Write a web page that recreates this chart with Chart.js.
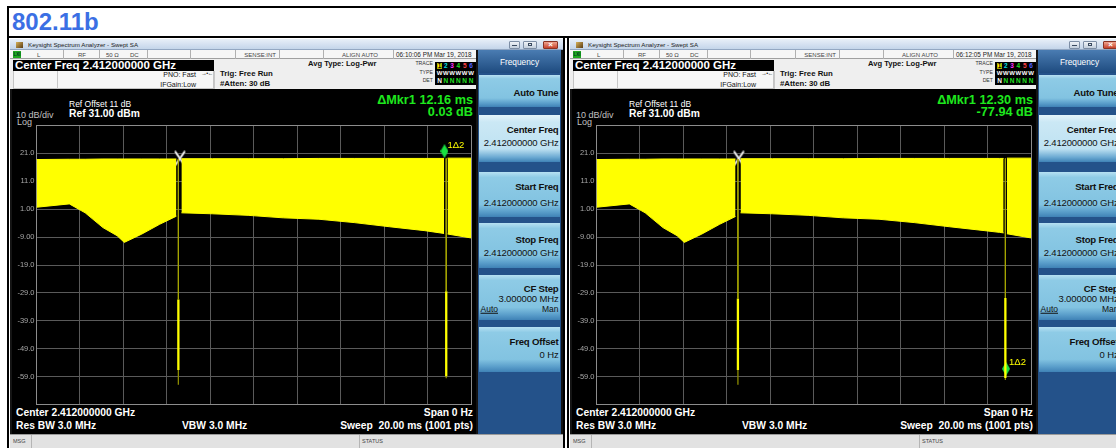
<!DOCTYPE html>
<html><head><meta charset="utf-8">
<script src="https://cdn.jsdelivr.net/npm/chart.js@4.4.1/dist/chart.umd.min.js"></script>
<style>
*{box-sizing:border-box}
html,body{margin:0;padding:0;background:#fff}
body{width:1116px;height:448px;position:relative;overflow:hidden;font-family:"Liberation Sans",Arial,Helvetica,sans-serif}
.a{position:absolute}
.t{position:absolute;white-space:nowrap;line-height:1}
.win{position:absolute;top:39px;width:553px;height:409px;overflow:hidden;background:#141414}
.btn{position:absolute;left:469px;width:81px;background:linear-gradient(to bottom,#b6e0f2 0%,#8ecbe6 12%,#82c3e1 72%,#5b9fcb 88%,#3f82b6 100%)}
.btn.sel{background:linear-gradient(to bottom,#e4f4fb 0%,#cbe8f5 15%,#bfe2f2 72%,#6ba9d2 90%,#3f82b6 100%)}
canvas{position:absolute}
</style></head><body>
<div class="a" style="left:7px;top:6px;width:1109px;height:1.5px;background:#000"></div>
<div class="a" style="left:7px;top:36px;width:1109px;height:1.5px;background:#000"></div>
<div class="a" style="left:7px;top:6px;width:1.5px;height:442px;background:#000"></div>
<div class="a" style="left:563px;top:36px;width:1.5px;height:412px;background:#000"></div>
<div class="a" style="left:567px;top:36px;width:1.5px;height:412px;background:#000"></div>
<div class="t" style="left:12px;top:21.5px;transform:translateY(-50%);font-size:24px;font-weight:bold;color:#3b6fe4">802.11b</div>
<div id="w1" class="win" style="left:10px"></div>
<div id="w2" class="win" style="left:570px"></div>
<script>
// ---------------- DATA ----------------
// Axes (zero span, 20 ms sweep, Ref 31 dBm, 10 dB/div)
const X_TICKS = [0, 2, 4, 6, 8, 10, 12, 14, 16, 18, 20];
const Y_TICKS = [-69, -59, -49, -39, -29, -19, -9, 1, 11, 21, 31];
const Y_TICK_LABELS = ['', '-59.0', '-49.0', '-39.0', '-29.0', '-19.0', '-9.00', '1.00', '11.0', '21.0', ''];

// Left capture: burst envelope (ms, dBm)
const L_timeA = [0, 1.51, 2.24, 3.06, 3.71, 4.04, 4.85, 5.67, 6.44];
const L_lowA  = [1.7, 2.9, -0.3, -5.6, -8.5, -10.9, -7.9, -4.4, -1.5];
const L_highA = [18.8, 18.9, 18.9, 19.0, 19.0, 19.0, 19.0, 19.0, 19.0];
const L_timeB = [6.67, 8.11, 9.74, 11.37, 13.0, 14.62, 16.26, 17.88, 18.76];
const L_lowB  = [-0.3, -0.65, -1.2, -2.1, -2.6, -3.8, -5.3, -6.7, -7.7];
const L_highB = [19.1, 19.1, 19.1, 19.1, 19.2, 19.2, 19.2, 19.2, 19.2];
const L_timeC = [18.92, 20];
const L_lowC  = [-7.9, -9.3];
const L_highC = [19.3, 19.3];
// burst-off drops
const L_dropTimes     = [6.53, 18.86];
const L_dropThinTop   = [19.0, 19.2];
const L_dropThickTop  = [-31.4, -28.4];
const L_dropThickBot  = [-56.6, -58.9];
const L_dropDimBot    = [-61.9, -59.6];
// markers: [reference X, delta diamond]
const L_markerTimes  = [6.6, 18.78];
const L_markerValues = [19.2, 19.3];

// Right capture
const R_timeA = [0, 1.51, 2.24, 3.06, 3.71, 4.04, 4.85, 5.67, 6.40];
const R_lowA  = [1.7, 2.9, -0.3, -5.6, -8.5, -10.9, -7.9, -4.4, -1.6];
const R_highA = [18.8, 18.9, 18.9, 19.0, 19.0, 19.0, 19.0, 19.0, 19.0];
const R_timeB = [6.63, 8.11, 9.74, 11.37, 13.0, 14.62, 16.26, 17.88, 18.54, 18.74];
const R_lowB  = [-0.3, -0.65, -1.2, -2.1, -2.6, -3.8, -5.3, -6.7, -7.3, -7.5];
const R_highB = [19.1, 19.1, 19.1, 19.1, 19.2, 19.2, 19.2, 19.2, 19.2, 19.2];
const R_timeC = [18.89, 20];
const R_lowC  = [-7.8, -9.3];
const R_highC = [19.3, 19.3];
const R_dropTimes     = [6.51, 18.82];
const R_dropThinTop   = [19.0, 19.2];
const R_dropThickTop  = [-31.0, -30.8];
const R_dropThickBot  = [-56.6, -59.5];
const R_dropDimBot    = [-61.9, -60.2];
const R_markerTimes  = [6.55, 18.85];
const R_markerValues = [19.2, -58.7];

// ---------------- CHROME ----------------
function t(x, y, s, css, a) {
  const tr = a === 'r' ? 'translate(-100%,-50%)' : a === 'c' ? 'translate(-50%,-50%)' : 'translateY(-50%)';
  return `<div class="t" style="left:${x}px;top:${y}px;transform:${tr};${css}">${s}</div>`;
}
function box(x, y, w, h, css) {
  return `<div class="a" style="left:${x}px;top:${y}px;width:${w}px;height:${h}px;${css}"></div>`;
}
function buildWin(el, cfg) {
  let h = '';
  // title bar
  h += box(0, 0, 553, 11, 'background:linear-gradient(#e8eff8,#c4d5ea);border-bottom:1px solid #93a7c2');
  h += box(6, 2.5, 7, 6, 'background:linear-gradient(135deg,#d8b25a,#5a3c14)');
  h += t(18, 5.5, 'Keysight Spectrum Analyzer - Swept SA', 'font-size:6.2px;color:#1a1a1a');
  h += box(499, 1.5, 11, 8, 'background:linear-gradient(#eef2f7,#c3cfdd);border:1px solid #7d8ea5;border-radius:1px');
  h += box(502, 5.5, 5, 1.2, 'background:#3a4a60');
  h += box(513, 1.5, 14, 8, 'background:linear-gradient(#eef2f7,#c3cfdd);border:1px solid #7d8ea5;border-radius:1px');
  h += box(518, 3.5, 4, 3.5, 'border:1px solid #3a4a60');
  h += box(533, 1.5, 15, 8, 'background:linear-gradient(#f0a590,#c8432c);border:1px solid #8a3324;border-radius:1px');
  h += t(540.5, 5.6, '×', 'font-size:8px;color:#fff;font-weight:bold', 'c');
  // status row
  h += box(0, 11, 466, 8.5, 'background:#f6f6f6;border-bottom:1px solid #a0a0a0');
  [53, 89, 137, 180, 225, 269, 313, 383].forEach(x => { h += box(x, 11, 1, 8.5, 'background:#b0b0b0'); });
  h += box(3, 12, 8, 7, 'background:#1fa81f');
  h += t(7, 15.6, 'LXI', 'font-size:4.5px;color:#032;font-weight:bold', 'c');
  const st = 'font-size:6px;color:#444';
  h += t(27, 15.5, 'L', st);
  h += t(68, 15.5, 'RF', st);
  h += t(96, 15.5, '50 Ω', st);
  h += t(120, 15.5, 'DC', st);
  h += t(266, 15.5, 'SENSE:INT', st, 'r');
  h += t(368, 15.5, 'ALIGN AUTO', st, 'r');
  h += t(386, 15.5, cfg.time, 'font-size:6.4px;color:#222');
  // info area
  h += box(0, 19.5, 466, 30.5, 'background:#efefef');
  h += box(3, 21, 201, 11, 'background:#000');
  h += t(5, 26.7, 'Center Freq 2.412000000 GHz', 'font-size:11.5px;font-weight:bold;color:#fff');
  h += box(3, 32, 201, 18, 'border:1px solid #c4c4c4;border-top:none;background:#f7f7f7');
  h += box(47, 32, 1, 18, 'background:#c8c8c8');
  h += box(204, 32, 1, 18, 'background:#c8c8c8');
  h += t(186, 35.2, 'PNO: Fast', 'font-size:7px;color:#111', 'r');
  h += t(197, 35, '→•←', 'font-size:5.5px;color:#111;letter-spacing:-0.5px', 'c');
  h += t(186, 45, 'IFGain:Low', 'font-size:7px;color:#111', 'r');
  h += t(210, 35, 'Trig: Free Run', 'font-size:7.8px;font-weight:bold;color:#111');
  h += t(210, 45, '#Atten: 30 dB', 'font-size:7.8px;font-weight:bold;color:#111');
  h += t(298, 24.6, 'Avg Type: Log-Pwr', 'font-size:7.6px;font-weight:bold;color:#111');
  const tl = 'font-size:5.2px;color:#333';
  h += t(423, 25.3, 'TRACE', tl, 'r');
  h += t(423, 33.7, 'TYPE', tl, 'r');
  h += t(423, 41.7, 'DET', tl, 'r');
  h += box(425, 22.5, 41, 23.5, 'background:#000');
  const numCols = ['#000', '#00e0e0', '#ff30ff', '#20e020', '#ff4040', '#5060ff'];
  for (let i = 0; i < 6; i++) {
    const cx = 429.5 + i * 6.3;
    if (i === 0) h += box(cx - 2.6, 23.5, 5.2, 6.6, 'background:#ffff00;border:1px solid #b0b000');
    h += t(cx, 26.8, String(i + 1), `font-size:6.5px;font-weight:bold;color:${numCols[i]}`, 'c');
    h += t(cx, 34, 'W', 'font-size:6px;color:#fff;font-weight:bold', 'c');
    h += t(cx, 41.8, 'N', `font-size:6.5px;font-weight:bold;color:${i === 0 ? '#fff' : '#20e020'}`, 'c');
  }
  // display area
  h += box(2, 50, 464, 345, 'background:#000');
  h += t(59, 65, 'Ref Offset 11 dB', 'font-size:8.5px;color:#fff');
  h += t(59, 75.3, 'Ref 31.00 dBm', 'font-size:10.3px;font-weight:bold;color:#fff');
  h += t(6, 76, '10 dB/div', 'font-size:9px;color:#c0c0c0');
  h += t(7, 83, 'Log', 'font-size:9px;color:#c0c0c0');
  h += t(463, 60.5, cfg.mkr, 'font-size:12.7px;font-weight:bold;color:#1ee81e', 'r');
  h += t(463, 72.5, cfg.mkrVal, 'font-size:12.7px;font-weight:bold;color:#1ee81e', 'r');
  const bt = 'font-size:10.3px;font-weight:bold;color:#fff';
  h += t(6, 374.3, 'Center 2.412000000 GHz', bt);
  h += t(463, 374.3, 'Span 0 Hz', bt, 'r');
  h += t(6, 387, 'Res BW 3.0 MHz', bt);
  h += t(172, 387, 'VBW 3.0 MHz', bt);
  h += t(463, 387, 'Sweep&nbsp;&nbsp;20.00 ms (1001 pts)', bt, 'r');
  h += `<canvas id="${cfg.id}" width="464" height="292" style="left:2px;top:80px"></canvas>`;
  // menu
  h += box(468, 11, 83, 384, 'background:#24528a');
  h += box(468, 11, 83, 23, 'background:linear-gradient(#4a7cb2,#1e4b7f)');
  h += t(509.5, 23, 'Frequency', 'font-size:8.3px;color:#fff', 'c');
  const btns = [
    [36, 32, 'Auto Tune', null, false, 54, 0],
    [76, 47, 'Center Freq', '2.412000000 GHz', true, 91, 104],
    [133, 45, 'Start Freq', '2.412000000 GHz', false, 148, 164],
    [184, 45, 'Stop Freq', '2.412000000 GHz', false, 201, 214],
    [236, 45, 'CF Step', '3.000000 MHz', false, 249.5, 259.5],
    [288, 45, 'Freq Offset', '0 Hz', false, 303, 316]
  ];
  btns.forEach(b => {
    h += `<div class="btn${b[4] ? ' sel' : ''}" style="top:${b[0]}px;height:${b[1]}px"></div>`;
    h += t(548.5, b[5], b[2], 'font-size:9.6px;font-weight:bold;color:#111;letter-spacing:-0.2px', 'r');
    if (b[3]) h += t(548.5, b[6], b[3], 'font-size:9.5px;color:#111;letter-spacing:-0.15px', 'r');
  });
  h += t(470.5, 270, '<u>Auto</u>', 'font-size:8.5px;color:#111');
  h += t(548.5, 270, 'Man', 'font-size:8.5px;color:#111', 'r');
  // msg bar
  h += box(0, 395, 553, 14, 'background:#e2e2e2;border-top:1px solid #9a9a9a');
  h += box(21, 396, 1, 13, 'background:#b5b5b5');
  h += box(349, 396, 1, 13, 'background:#b5b5b5');
  h += t(3, 402.5, 'MSG', 'font-size:5.5px;color:#444');
  h += t(352, 402.5, 'STATUS', 'font-size:5.5px;color:#444');
  el.innerHTML = h;
}
buildWin(document.getElementById('w1'), {id: 'c1', time: '06:10:06 PM Mar 19, 2018', mkr: 'ΔMkr1 12.16 ms', mkrVal: '0.03 dB'});
buildWin(document.getElementById('w2'), {id: 'c2', time: '06:12:05 PM Mar 19, 2018', mkr: 'ΔMkr1 12.30 ms', mkrVal: '-77.94 dB'});

// ---------------- MARKER GLYPHS ----------------
function diamondGlyph() {
  const c = document.createElement('canvas'); c.width = 8; c.height = 28;
  const g = c.getContext('2d');
  g.fillStyle = '#18e040';
  g.beginPath(); g.moveTo(4, 0); g.lineTo(8, 7); g.lineTo(4, 14); g.lineTo(0, 7); g.closePath(); g.fill();
  return c;
}
function crossGlyph() {
  const c = document.createElement('canvas'); c.width = 12; c.height = 16;
  const g = c.getContext('2d');
  g.lineCap = 'round';
  g.strokeStyle = '#6a6a6a'; g.lineWidth = 2.6;
  g.beginPath(); g.moveTo(1.5, 1.5); g.lineTo(10.5, 14.5); g.moveTo(10.5, 1.5); g.lineTo(1.5, 14.5); g.stroke();
  g.strokeStyle = '#f4f4f4'; g.lineWidth = 1.4;
  g.beginPath(); g.moveTo(1.5, 1.5); g.lineTo(10.5, 14.5); g.moveTo(10.5, 1.5); g.lineTo(1.5, 14.5); g.stroke();
  return c;
}
const DIAMOND = diamondGlyph(), CROSS = crossGlyph();

const markerLabelPlugin = {
  id: 'markerLabel',
  afterDatasetsDraw(chart) {
    const ctx = chart.ctx;
    chart.data.datasets.forEach((ds, i) => {
      if (!ds.markerLabel) return;
      const p = chart.getDatasetMeta(i).data[0];
      ctx.save();
      ctx.fillStyle = '#ffff00';
      ctx.font = '9.5px "Liberation Sans", Arial, sans-serif';
      ctx.textBaseline = 'middle';
      ctx.fillText(ds.markerLabel, p.x + 3, p.y - 13);
      ctx.restore();
    });
  }
};

// ---------------- CHARTS ----------------
const YEL = '#ffff00';
function pts(ts, vs) { return ts.map((x, i) => ({x: x, y: vs[i]})); }
function line(data, color, width, fill) {
  return {type: 'line', data: data, borderColor: color, backgroundColor: color, borderWidth: width,
    pointRadius: 0, fill: fill || false, tension: 0};
}
function makeChart(id, d) {
  const ds = [];
  [[d.tA, d.hA, d.lA], [d.tB, d.hB, d.lB], [d.tC, d.hC, d.lC]].forEach(s => {
    ds.push(line(pts(s[0], s[1]), YEL, 1, '+1'));
    ds.push(line(pts(s[0], s[2]), YEL, 1, false));
  });
  d.dropT.forEach((x, i) => {
    ds.push(line([{x: x, y: d.thinTop[i]}, {x: x, y: d.thickTop[i]}], '#a5a500', 1));
    ds.push(line([{x: x, y: d.thickTop[i]}, {x: x, y: d.thickBot[i]}], YEL, 2.3));
    ds.push(line([{x: x, y: d.thickBot[i]}, {x: x, y: d.dimBot[i]}], '#8c8c00', 1.3));
  });
  ds.push({type: 'line', showLine: false, data: [{x: d.mT[0], y: d.mV[0]}], pointStyle: CROSS, pointRadius: 5, borderWidth: 0});
  ds.push({type: 'line', showLine: false, data: [{x: d.mT[1], y: d.mV[1]}], pointStyle: DIAMOND, pointRadius: 5, borderWidth: 0, markerLabel: '1Δ2'});

  new Chart(document.getElementById(id), {
    type: 'line',
    data: {datasets: ds},
    plugins: [markerLabelPlugin],
    options: {
      responsive: false, animation: false, events: [],
      layout: {padding: {left: 0, right: 1, top: 4, bottom: 4}},
      plugins: {legend: {display: false}, tooltip: {enabled: false}},
      scales: {
        x: {
          type: 'linear', min: 0, max: 20, offset: false,
          afterBuildTicks: a => { a.ticks = X_TICKS.map(v => ({value: v})); },
          afterFit: a => { a.height = 0; },
          ticks: {display: false},
          grid: {drawTicks: false, color: c => (c.tick && c.tick.value === 20) ? '#8c8c8c' : '#5a5a5a', lineWidth: 1},
          border: {color: '#8c8c8c', width: 1}
        },
        y: {
          type: 'linear', min: -69, max: 31,
          afterBuildTicks: a => { a.ticks = Y_TICKS.map(v => ({value: v})); },
          afterFit: a => { a.width = 24.5; },
          ticks: {
            padding: 2, color: '#a8a8a8', font: {size: 7.5, family: '"Liberation Sans", Arial, sans-serif'},
            callback: (v) => Y_TICK_LABELS[Y_TICKS.indexOf(v)]
          },
          grid: {drawTicks: false, color: c => (c.tick && c.tick.value === 31) ? '#8c8c8c' : '#5a5a5a', lineWidth: 1},
          border: {color: '#8c8c8c', width: 1}
        }
      }
    }
  });
}
makeChart('c1', {tA: L_timeA, hA: L_highA, lA: L_lowA, tB: L_timeB, hB: L_highB, lB: L_lowB,
  tC: L_timeC, hC: L_highC, lC: L_lowC, dropT: L_dropTimes, thinTop: L_dropThinTop, thickTop: L_dropThickTop,
  thickBot: L_dropThickBot, dimBot: L_dropDimBot, mT: L_markerTimes, mV: L_markerValues});
makeChart('c2', {tA: R_timeA, hA: R_highA, lA: R_lowA, tB: R_timeB, hB: R_highB, lB: R_lowB,
  tC: R_timeC, hC: R_highC, lC: R_lowC, dropT: R_dropTimes, thinTop: R_dropThinTop, thickTop: R_dropThickTop,
  thickBot: R_dropThickBot, dimBot: R_dropDimBot, mT: R_markerTimes, mV: R_markerValues});
</script>
</body></html>
